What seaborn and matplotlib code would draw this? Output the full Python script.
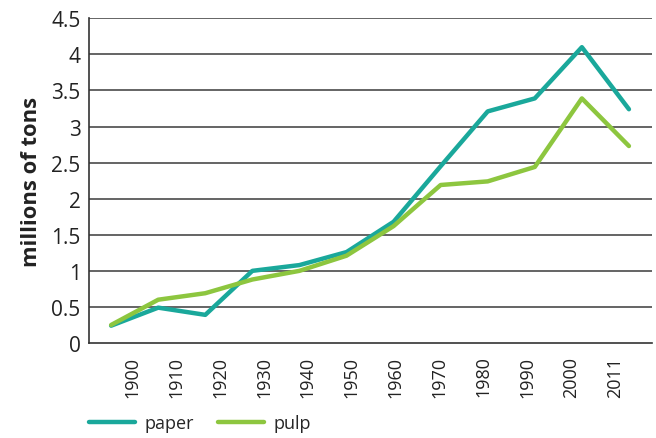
import numpy as np
import pandas as pd
import matplotlib
matplotlib.use("Agg")
import matplotlib.pyplot as plt
import seaborn as sns
from matplotlib.lines import Line2D

years = ["1900", "1910", "1920", "1930", "1940", "1950", "1960", "1970", "1980", "1990", "2000", "2011"]
paper = [0.24, 0.49, 0.39, 1.00, 1.08, 1.26, 1.68, 2.45, 3.21, 3.39, 4.10, 3.24]
pulp = [0.25, 0.60, 0.69, 0.88, 1.00, 1.21, 1.62, 2.19, 2.24, 2.44, 3.39, 2.73]
series = ["paper", "pulp"]
colors = {"paper": "#1aa89b", "pulp": "#8dc63f"}
yticks = [0, 0.5, 1, 1.5, 2, 2.5, 3, 3.5, 4, 4.5]
ytick_labels = ["0", "0.5", "1", "1.5", "2", "2.5", "3", "3.5", "4", "4.5"]

sns.set_theme(style="white")
plt.rcParams["font.family"] = ["Open Sans", "DejaVu Sans"]

idx = np.arange(len(years))
df = pd.DataFrame({
    "x": np.concatenate([idx, idx]),
    "value": paper + pulp,
    "series": ["paper"] * len(years) + ["pulp"] * len(years),
})

fig = plt.figure(figsize=(6.56, 4.39), dpi=100)
ax = fig.add_axes([0.1357, 0.2164, 0.8582, 0.7396])

sns.lineplot(data=df, x="x", y="value", hue="series", hue_order=series,
             palette=colors, linewidth=3.2, ax=ax, legend=False)

ax.set_xlim(-0.47, 11.49)
ax.set_ylim(0, 4.5)
ax.set_yticks(yticks)
ax.set_yticklabels(ytick_labels, fontsize=15, color="#222222")
for y in yticks[1:]:
    ax.axhline(y, color="#3a3a3a", linewidth=1.1, zorder=0)

tick_pos = np.linspace(0.45, 10.70, len(years))
ax.set_xticks(tick_pos)
ax.set_xticklabels(years, rotation=90, fontsize=13, color="#222222")
ax.tick_params(axis="both", length=0, pad=6)
ax.tick_params(axis="x", pad=9)

ax.set_xlabel("")
ax.set_ylabel("millions of tons", fontsize=15.8, fontweight="bold", color="#222222", labelpad=7)

for s in ["top", "right"]:
    ax.spines[s].set_visible(False)
for s in ["left", "bottom"]:
    ax.spines[s].set_color("#333333")
    ax.spines[s].set_linewidth(1.2)

handles = [Line2D([], [], color=colors[s], linewidth=3.2) for s in series]
fig.legend(handles, series, loc="center left", bbox_to_anchor=(0.1357, 0.034),
           ncol=2, frameon=False, fontsize=13, handlelength=2.55, borderpad=0,
           borderaxespad=0, handletextpad=0.55, columnspacing=1.3)

fig.savefig("out.png", dpi=100)
